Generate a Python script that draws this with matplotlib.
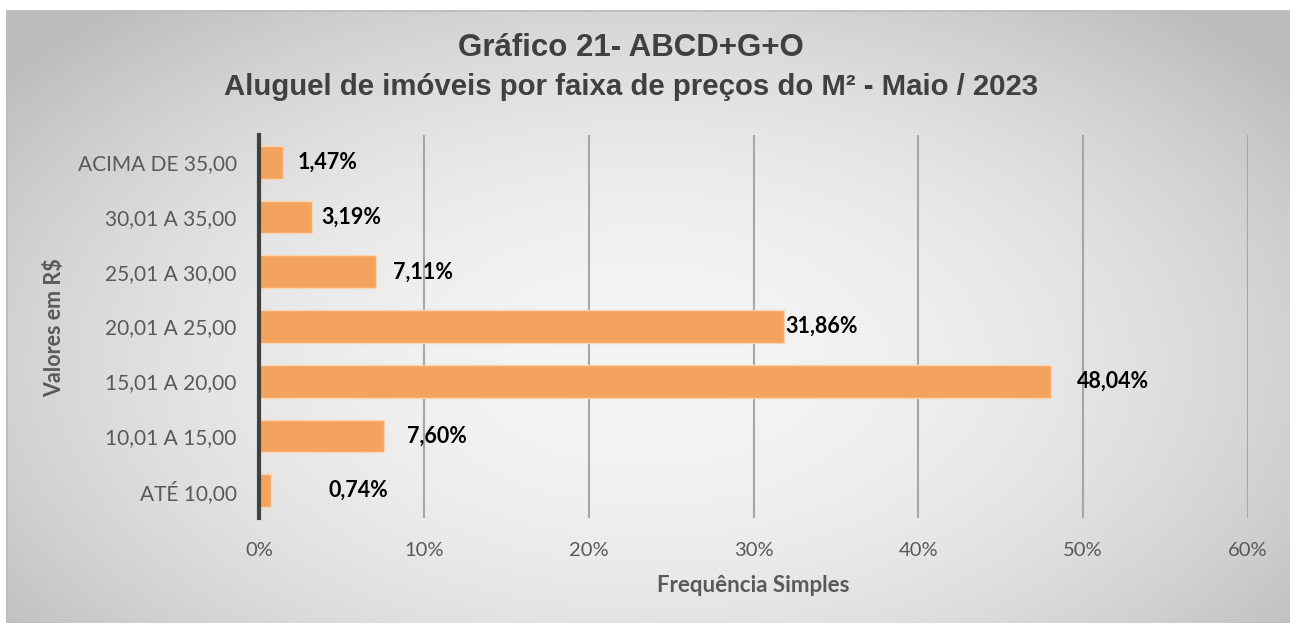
import numpy as np
import matplotlib
matplotlib.use("Agg")
import matplotlib.pyplot as plt

# dados
faixas = ["ATÉ 10,00", "10,01 A 15,00", "15,01 A 20,00", "20,01 A 25,00",
          "25,01 A 30,00", "30,01 A 35,00", "ACIMA DE 35,00"]
freq = [0.74, 7.60, 48.04, 31.86, 7.11, 3.19, 1.47]
rotulos = ["0,74%", "7,60%", "48,04%", "31,86%", "7,11%", "3,19%", "1,47%"]
xticks = [0, 10, 20, 30, 40, 50, 60]
xticklabels = ["0%", "10%", "20%", "30%", "40%", "50%", "60%"]

# deslocamento dos rotulos (em % do eixo), como no grafico do Excel
desloc = [3.5, 1.4, 1.6, 0.1, 1.0, 0.6, 0.9]

W, H = 1290, 623
fig = plt.figure(figsize=(W / 100, H / 100), dpi=100)
fig.patch.set_facecolor("white")

# fundo com gradiente radial
bg = fig.add_axes([6 / W, 0, 1 - 6 / W, (H - 10) / H])
yy, xx = np.mgrid[0:1:300j, 0:1:600j]
r = np.sqrt(((xx - 0.5) / 0.62) ** 2 + ((yy - 0.58) / 0.75) ** 2)
g = np.clip(0.96 - 0.21 * r ** 2, 0.74, 1)
bg.imshow(np.dstack([g, g, g]), aspect="auto", extent=[0, 1, 0, 1], interpolation="bilinear")
bg.plot([0, 1], [1, 1], color="#bfbfbf", lw=2, transform=bg.transAxes)
bg.plot([0, 0], [0, 1], color="#bfbfbf", lw=2, transform=bg.transAxes)
bg.set_axis_off()

ax = fig.add_axes([259 / W, 1 - 518 / H, (1248 - 259) / W, (518 - 135) / H])
ax.patch.set_alpha(0)

y = np.arange(len(faixas))
ax.barh(y, freq, height=0.6, color="#f4a35e", edgecolor="#fbd5b0", linewidth=1, zorder=3)
for i, v in enumerate(freq):
    ax.text(v + desloc[i], y[i], rotulos[i], va="center", ha="left",
            fontsize=15.5, fontweight="bold", family="Lato", color="black", zorder=4)

ax.set_xlim(0, 60)
ax.set_ylim(-0.5, len(faixas) - 0.5)
ax.set_xticks(xticks)
ax.set_xticklabels(xticklabels, family="Lato", fontsize=14.5, color="#595959")
ax.set_yticks(y)
ax.set_yticklabels(faixas, family="Lato", fontsize=15, color="#595959")
ax.tick_params(axis="both", length=0)
ax.tick_params(axis="x", pad=17)
ax.tick_params(axis="y", pad=16)
ax.grid(axis="x", color="#a6a6a6", linewidth=1.5, zorder=0)
for s in ["top", "right", "bottom"]:
    ax.spines[s].set_visible(False)
ax.spines["left"].set_color("#404040")
ax.spines["left"].set_linewidth(3)
ax.spines["left"].set_zorder(5)

ax.set_xlabel("Frequência Simples", family="Lato", fontsize=16, fontweight="bold",
              color="#595959", labelpad=12)
fig.text(55 / W, 1 - 328 / H, "Valores em R$", rotation=90, ha="center", va="center",
         family="Lato", fontsize=15.5, fontweight="bold", color="#595959")

fig.text(631 / W, 1 - 48 / H, "Gráfico 21- ABCD+G+O", ha="center", va="center",
         family="Liberation Sans", fontsize=22.5, fontweight="bold", color="#404040")
fig.text(631 / W, 1 - 87 / H, "Aluguel de imóveis por faixa de preços do M² - Maio / 2023",
         ha="center", va="center", family="Liberation Sans", fontsize=21.2,
         fontweight="bold", color="#404040")

fig.savefig("out.png", dpi=100)
